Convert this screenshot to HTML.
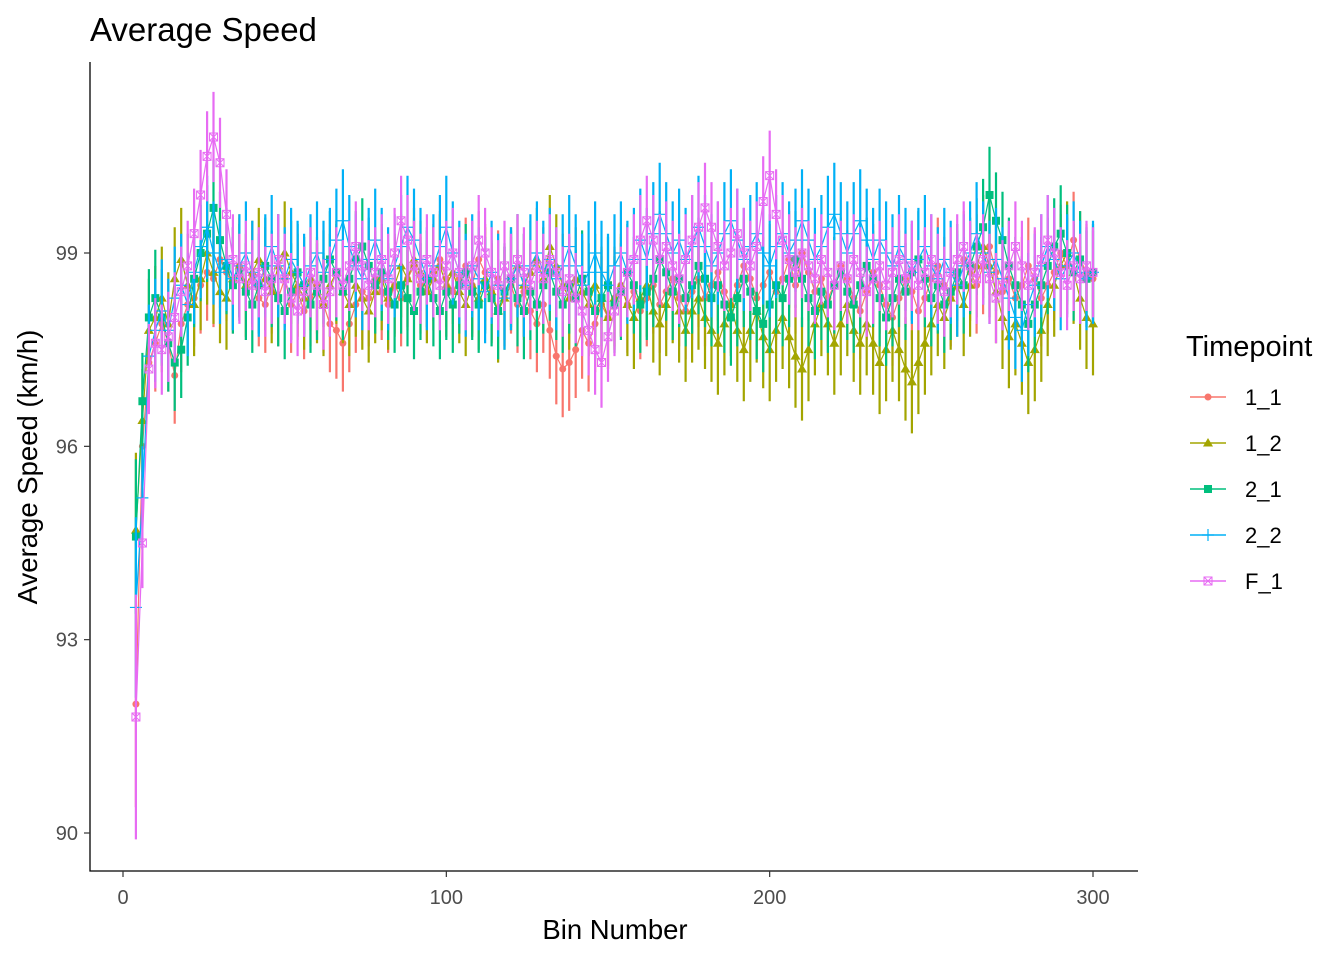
<!DOCTYPE html>
<html><head><meta charset="utf-8"><style>
body{margin:0;background:#fff;}
svg text{font-family:"Liberation Sans",Arial,sans-serif;}
</style></head><body>
<svg id="chart" width="1344" height="960" xmlns="http://www.w3.org/2000/svg">
<rect width="1344" height="960" fill="#fff"/>
<text x="90" y="41" font-size="33" fill="#000">Average Speed</text>
<g id="plot"></g>
<g id="axes"></g>
<text x="615" y="939" font-size="27.5" text-anchor="middle" fill="#000">Bin Number</text>
<text transform="translate(37,467) rotate(-90)" font-size="27.5" text-anchor="middle" fill="#000">Average Speed (km/h)</text>
<g id="legend">
<text x="1186" y="356" font-size="29" fill="#000">Timepoint</text>
</g>
</svg>
<script>
const xTicks=[0,100,200,300];
const yTicks=[90,93,96,99];
const names=["1_1","1_2","2_1","2_2","F_1"];
const colors=["#F8766D","#A3A500","#00BF7D","#00B0F6","#E76BF3"];
const errs=[0.75,0.8,0.75,0.8,0.7];
const startErr=[1.6,1.2,1.2,1.4,1.9];
const bins=[];for(let b=4;b<=300;b+=2)bins.push(b);
const s11=[92.0,96.0,97.3,97.6,97.9,97.6,97.1,97.9,98.2,98.3,98.5,98.7,98.6,98.9,98.7,98.5,98.8,98.4,98.6,98.3,98.2,98.5,98.3,98.6,98.2,98.4,98.1,98.3,98.5,98.2,97.9,97.8,97.6,97.9,98.2,98.4,98.3,98.6,98.4,98.2,98.5,98.3,98.6,98.8,98.5,98.4,98.7,98.9,98.6,98.4,98.6,98.8,98.5,98.9,98.7,98.4,98.6,98.3,98.5,98.2,98.4,98.1,97.9,98.2,97.8,97.4,97.2,97.3,97.5,97.8,97.6,97.9,98.2,98.0,98.3,98.5,98.2,98.4,98.1,98.3,98.5,98.2,98.4,98.6,98.3,98.1,98.4,98.6,98.3,98.5,98.7,98.4,98.2,98.5,98.8,98.6,98.3,98.5,98.7,98.4,98.6,98.9,98.5,99.0,98.7,98.4,98.6,98.3,98.5,98.8,98.6,98.3,98.1,98.4,98.7,98.5,98.2,98.0,98.3,98.6,98.4,98.1,98.3,98.6,98.8,98.5,98.3,98.6,98.9,98.7,98.5,98.8,99.1,98.7,98.4,98.6,98.3,98.5,98.8,98.6,98.3,98.5,98.7,99.0,98.8,99.2,98.9,98.7,98.6];
const s12=[94.7,96.4,97.8,98.0,98.3,97.9,98.6,98.9,98.5,98.2,98.6,99.0,98.7,98.4,98.3,98.6,98.8,98.5,98.7,98.9,98.6,98.4,98.8,99.0,98.7,98.5,98.3,98.6,98.4,98.2,98.5,98.7,98.4,98.2,98.5,98.3,98.1,98.4,98.6,98.3,98.5,98.8,98.6,98.9,98.7,98.4,98.6,98.8,98.5,98.7,98.4,98.2,98.5,98.3,98.6,98.4,98.1,98.3,98.6,98.8,98.5,98.7,98.9,98.6,99.1,98.8,98.5,98.3,98.6,98.4,98.2,98.5,98.3,98.0,98.3,98.5,98.2,98.0,98.3,98.5,98.1,97.9,98.2,98.4,98.1,97.8,98.1,98.3,98.0,97.8,97.6,97.9,98.2,97.8,97.5,97.8,98.1,97.7,97.5,97.8,98.0,97.7,97.4,97.2,97.5,97.9,98.2,97.9,97.6,97.9,98.2,97.8,97.6,97.9,97.6,97.3,97.5,97.8,97.5,97.2,97.0,97.3,97.6,97.9,98.2,98.0,98.3,98.5,98.2,98.5,98.8,99.1,98.8,98.4,98.0,97.7,97.9,97.6,97.3,97.5,97.8,98.2,98.5,98.8,99.0,98.7,98.3,98.0,97.9];
const s21=[94.6,96.7,98.0,98.3,98.0,97.6,97.3,97.5,98.0,98.6,99.0,99.3,99.7,99.2,98.8,98.5,98.7,98.4,98.2,98.5,98.8,98.6,98.3,98.1,98.4,98.7,98.5,98.2,98.4,98.6,98.9,98.7,98.4,98.6,98.9,99.1,98.8,98.5,98.7,98.4,98.2,98.5,98.3,98.1,98.4,98.6,98.3,98.1,98.4,98.2,98.5,98.7,98.4,98.2,98.5,98.3,98.1,98.4,98.6,98.3,98.1,98.4,98.2,98.5,98.7,98.4,98.2,98.5,98.3,98.6,98.4,98.1,98.3,98.5,98.2,98.4,98.7,98.5,98.2,98.4,98.6,98.9,98.7,98.4,98.6,98.3,98.5,98.8,98.6,98.3,98.5,98.2,98.0,98.3,98.6,98.4,98.1,97.9,98.2,98.5,98.3,98.6,98.9,98.6,98.3,98.1,98.4,98.2,98.5,98.7,98.4,98.2,98.5,98.8,98.6,98.3,98.0,98.3,98.6,98.4,98.7,98.9,98.6,98.3,98.5,98.2,98.4,98.7,98.5,98.8,99.1,99.4,99.9,99.5,99.2,98.8,98.5,98.2,97.9,98.2,98.5,98.8,99.1,99.3,99.0,98.7,98.9,98.6,98.7];
const s22=[93.5,95.2,97.4,97.8,98.1,97.8,98.3,98.5,98.2,98.7,99.1,99.4,99.0,98.7,98.9,98.6,98.8,99.0,98.7,98.5,98.8,99.1,98.8,98.6,98.9,98.7,98.5,98.8,99.0,98.7,98.9,99.2,99.5,99.1,98.8,98.6,98.9,99.2,98.9,98.6,98.8,99.1,99.4,99.2,98.9,98.6,98.8,99.1,99.4,99.0,98.7,98.5,98.8,98.6,98.4,98.7,98.5,98.3,98.6,98.8,98.5,98.8,99.0,98.7,98.9,98.6,98.8,99.1,98.8,98.5,98.7,99.0,98.7,98.5,98.8,99.0,98.7,98.9,99.2,98.9,99.3,99.6,99.3,99.0,99.2,98.9,99.1,99.4,99.1,98.8,99.0,99.3,99.5,99.2,98.9,99.1,99.3,99.0,98.8,99.1,99.3,99.0,99.2,99.5,99.2,98.9,99.1,99.4,99.6,99.3,99.0,99.3,99.5,99.2,98.9,99.2,99.0,98.8,99.1,98.9,98.7,98.9,99.1,98.8,98.6,98.9,98.7,98.5,98.8,99.0,99.3,99.0,98.7,98.9,98.6,98.3,98.0,97.8,98.2,98.5,98.8,99.1,98.9,98.6,98.8,99.0,98.7,98.6,98.7];
const sF1=[91.8,94.5,97.2,97.6,97.5,97.7,98.0,98.4,98.8,99.3,99.9,100.5,100.8,100.4,99.6,98.9,98.6,98.8,98.5,98.7,98.4,98.6,98.9,98.6,98.3,98.1,98.4,98.7,98.5,98.2,98.4,98.7,98.5,98.8,99.1,98.8,98.5,98.7,98.9,98.6,99.0,99.5,99.2,98.8,98.6,98.9,98.7,98.5,98.8,99.0,98.7,98.5,98.8,99.2,99.0,98.7,98.5,98.8,98.6,98.9,98.7,98.5,98.8,98.6,98.9,98.7,98.4,98.6,98.3,98.1,97.8,97.5,97.3,97.7,98.1,98.4,98.7,98.9,99.2,99.5,99.2,98.9,99.1,98.8,98.6,98.9,99.2,99.4,99.7,99.4,99.1,98.8,99.0,99.3,99.0,98.8,99.1,99.8,100.2,99.6,99.2,98.9,98.7,99.0,98.8,98.6,98.9,98.7,98.5,98.8,98.6,98.9,98.7,98.4,98.6,98.8,98.5,98.7,98.9,98.6,98.8,98.5,98.7,98.9,98.6,98.4,98.7,98.9,99.1,98.8,98.6,98.9,98.6,98.3,98.5,98.8,99.1,98.8,98.5,98.7,98.9,99.2,99.0,98.7,98.5,98.8,98.6,98.8,98.7];
const series=[s11,s12,s21,s22,sF1];

const NS="http://www.w3.org/2000/svg";
const X0=90,X1=1138,Y0=62,Y1=871;
const xs=v=>123+(v-0)*(1093-123)/300;
const ys=v=>833-(v-90)*(833-253)/9;
function mk(tag,attrs,parent){const e=document.createElementNS(NS,tag);for(const k in attrs)e.setAttribute(k,attrs[k]);parent.appendChild(e);return e;}
function marker(i,x,y,g,c){
  let e;
  if(i===0){e=mk('circle',{cx:x,cy:y,r:3.5,fill:c},g);}
  else if(i===1){e=mk('polygon',{points:`${x},${y-5} ${x-5},${y+3.5} ${x+5},${y+3.5}`,fill:c},g);}
  else if(i===2){e=mk('rect',{x:x-4,y:y-4,width:8,height:8,fill:c},g);}
  else if(i===3){e=mk('path',{d:`M${x-6},${y}H${x+6}M${x},${y-6}V${y+6}`,stroke:c,'stroke-width':1.2,fill:'none'},g);}
  else {e=mk('path',{d:`M${x-4},${y-4}h8v8h-8zM${x-4},${y-4}l8,8M${x+4},${y-4}l-8,8`,stroke:c,'stroke-width':1,fill:'none'},g);}
  return e;
}
const plot=document.getElementById('plot');
series.forEach((vals,i)=>{
  const c=colors[i];
  const g=mk('g',{},plot);
  
  
  let eb='';
  vals.forEach((v,j)=>{const e=j===0?startErr[i]:errs[i];const x=xs(bins[j]);eb+=`M${x.toFixed(1)},${ys(v+e).toFixed(1)}V${ys(v-e).toFixed(1)}`;});
  const p=mk('path',{d:eb,stroke:c,'stroke-width':2.2,fill:'none'},g);
  
  
  const ln=mk('polyline',{points:vals.map((v,j)=>xs(bins[j]).toFixed(1)+','+ys(v).toFixed(1)).join(' '),stroke:c,'stroke-width':1.2,fill:'none'},g);
  
  
  vals.forEach((v,j)=>{const m=marker(i,xs(bins[j]),ys(v),g,c);
    
    });
});
const axes=document.getElementById('axes');
const ax=mk('path',{d:`M${X0},${Y0}V${Y1}H${X1}`,stroke:'#000','stroke-width':1.3,fill:'none'},axes);


xTicks.forEach(t=>{const x=xs(t);
  mk('line',{x1:x,x2:x,y1:Y1,y2:Y1+6,stroke:'#333','stroke-width':1.2},axes);
  const tx=mk('text',{x:x,y:Y1+33,'font-size':20,'text-anchor':'middle',fill:'#4d4d4d'},axes);tx.textContent=t;
  
  });
yTicks.forEach(t=>{const y=ys(t);
  mk('line',{x1:X0-6,x2:X0,y1:y,y2:y,stroke:'#333','stroke-width':1.2},axes);
  const tx=mk('text',{x:X0-12,y:y+7,'font-size':20,'text-anchor':'end',fill:'#4d4d4d'},axes);tx.textContent=t;
  
  });
const leg=document.getElementById('legend');
names.forEach((n,i)=>{const y=397+i*46;
  const g=mk('g',{},leg);
  
  
  mk('line',{x1:1190,x2:1226,y1:y,y2:y,stroke:colors[i],'stroke-width':1.5},g);
  marker(i,1208,y,g,colors[i]);
  const t=mk('text',{x:1245,y:y+8,'font-size':22,fill:'#000'},g);t.textContent=n;});
</script>
</body></html>
